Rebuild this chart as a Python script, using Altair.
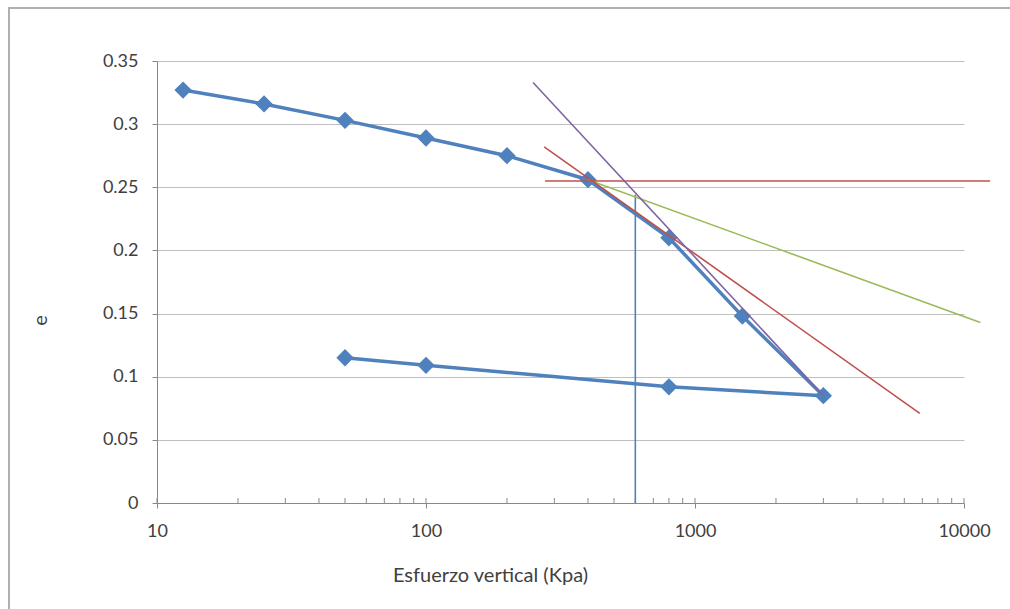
import altair as alt
import pandas as pd

# Main curve (loading then unloading), in drawing order
stress = [12.5, 25, 50, 100, 200, 400, 800, 1500, 3000, 800, 100, 50]
void_ratio = [0.327, 0.316, 0.303, 0.289, 0.275, 0.256, 0.210, 0.148, 0.085, 0.092, 0.109, 0.115]

# Construction lines (Casagrande method)
purple_x = [250, 3000]
purple_y = [0.333, 0.085]
red_slope_x = [275, 6850]
red_slope_y = [0.282, 0.071]
red_flat_x = [277, 12500]
red_flat_y = [0.255, 0.255]
green_x = [400, 11500]
green_y = [0.256, 0.143]
vert_x = [600, 600]
vert_y = [0.0, 0.244]

x_major = [10, 100, 1000, 10000]
x_minor = [m * 10 ** d for d in (1, 2, 3) for m in range(2, 10)]
y_ticks = [0, 0.05, 0.1, 0.15, 0.2, 0.25, 0.3, 0.35]

W, H = 807, 442
FONT = "Lato"

main_df = pd.DataFrame({"x": stress, "y": void_ratio, "o": list(range(len(stress)))})

def seg(xs, ys, name):
    return pd.DataFrame({"x": xs, "y": ys, "name": name, "o": [0, 1]})

xscale = alt.Scale(type="log", domain=[10, 10000], nice=False)
yscale = alt.Scale(domain=[0, 0.35], nice=False, zero=True)

xaxis = alt.Axis(
    values=x_major, format="d", title="Esfuerzo vertical (Kpa)", grid=False,
    tickSize=5, tickColor="#888888", domainColor="#888888", labelFontSize=18,
    labelColor="#404040", labelPadding=14, titleFontSize=20, titleFontWeight="normal",
    titleColor="#404040", titleX=333, titleY=62, labelFont=FONT, titleFont=FONT,
    labelFlush=False, labelOverlap=False,
)
yaxis = alt.Axis(
    values=y_ticks, title="e", grid=True, gridColor="#BFBFBF", tickSize=5,
    tickColor="#888888", domainColor="#888888", labelFontSize=18, labelColor="#404040",
    labelPadding=14, titleFontSize=20, titleFontWeight="normal", titleColor="#404040",
    titleX=-107, titleY=259, labelFont=FONT, titleFont=FONT, labelFlush=False,
    labelExpr="datum.value == 0 ? '0' : format(datum.value, '.2~f')",
)

base_x = alt.X("x:Q", scale=xscale, axis=xaxis)
base_y = alt.Y("y:Q", scale=yscale, axis=yaxis)

border = alt.Chart(pd.DataFrame({"a": [0]})).mark_rect(
    fill=None, stroke="#B0B0B0", strokeWidth=2, clip=False
).encode(x=alt.value(-148), x2=alt.value(W + 100), y=alt.value(-53), y2=alt.value(H + 200))

minor = alt.Chart(pd.DataFrame({"x": x_minor + x_major})).mark_rule(
    color="#888888", strokeWidth=1, clip=False
).encode(x=alt.X("x:Q", scale=xscale, axis=xaxis), y=alt.value(H - 5), y2=alt.value(H))

def line(df, color, width=1.6):
    return alt.Chart(df).mark_line(color=color, strokeWidth=width, clip=False).encode(
        x=alt.X("x:Q", scale=xscale, axis=xaxis),
        y=alt.Y("y:Q", scale=yscale, axis=yaxis),
        order="o:O",
    )

vert = line(seg(vert_x, vert_y, "v"), "#4F81BD", 1.6)
green = line(seg(green_x, green_y, "g"), "#9BBB59")
red_flat = line(seg(red_flat_x, red_flat_y, "rf"), "#C0504D")
red_slope = line(seg(red_slope_x, red_slope_y, "rs"), "#C0504D")
purple = line(seg(purple_x, purple_y, "p"), "#8064A2")

main_line = alt.Chart(main_df).mark_line(color="#4F81BD", strokeWidth=3.5, clip=False).encode(
    x=base_x, y=base_y, order="o:Q"
)
main_pts = alt.Chart(main_df).mark_point(
    shape="diamond", filled=True, color="#4F81BD", size=300, opacity=1
).encode(x=base_x, y=base_y)

chart = alt.layer(
    border, minor, vert, main_line, main_pts, green, red_flat, red_slope, purple
).properties(
    width=W, height=H,
    autosize=alt.AutoSizeParams(type="none"),
    padding={"left": 157, "top": 61, "right": 46, "bottom": 106},
    background="white",
).configure_view(stroke=None)

chart.save("out.html", embed_options={"renderer": "svg", "actions": False})
